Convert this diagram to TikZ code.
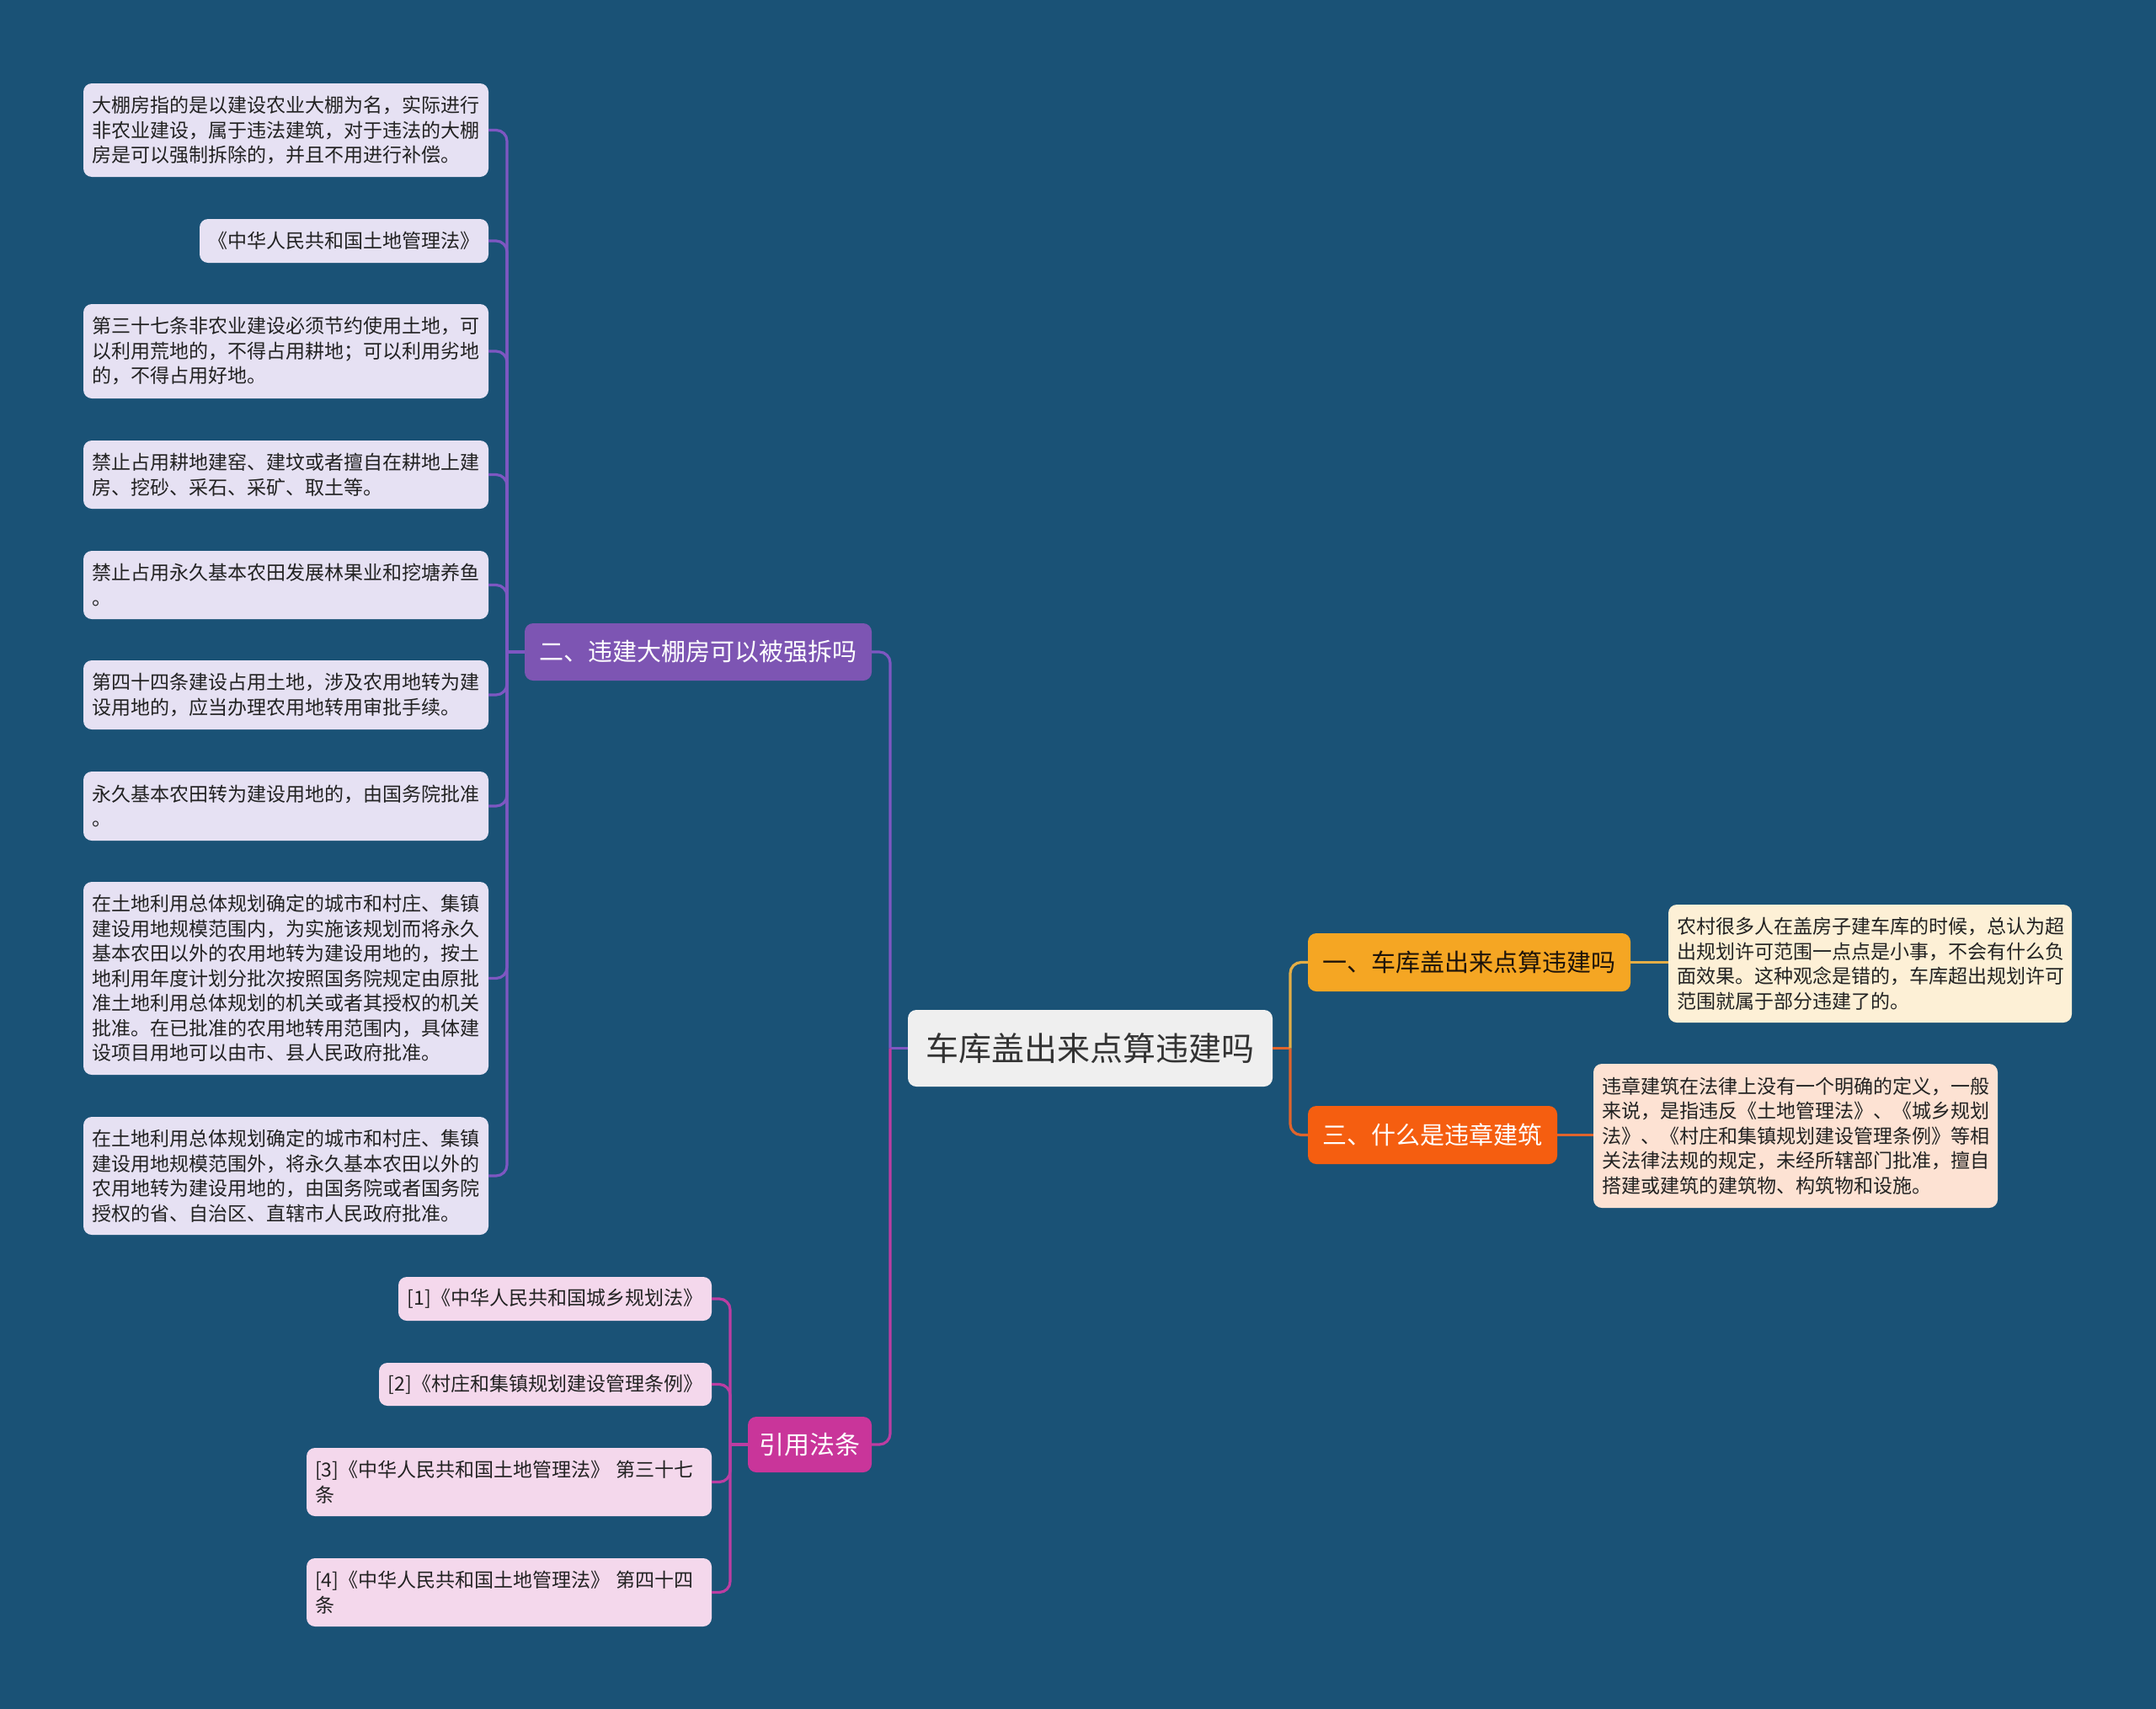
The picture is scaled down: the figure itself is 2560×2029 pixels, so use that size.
\documentclass[tikz,border=0pt]{standalone}
\usepackage{fontspec}
\setmainfont{Noto Sans CJK SC}
\definecolor{bg}{HTML}{1A5276}
\definecolor{leafl}{HTML}{E6E1F3}
\definecolor{leafp}{HTML}{F4D8EC}
\definecolor{leafy}{HTML}{FDF0D6}
\definecolor{leafo}{HTML}{FDE2D3}
\definecolor{centerc}{HTML}{EFEFEF}
\definecolor{purp}{HTML}{7D55B3}
\definecolor{mag}{HTML}{C9359A}
\definecolor{yel}{HTML}{F5A623}
\definecolor{ora}{HTML}{F55E10}
\definecolor{purpline}{HTML}{7E57C2}
\definecolor{magline}{HTML}{BC3DA2}
\definecolor{yelline}{HTML}{E4AE46}
\definecolor{oraline}{HTML}{E0642C}
\definecolor{txt}{HTML}{222222}
\begin{document}
\begin{tikzpicture}[x=1pt,y=-1pt,
  every node/.style={inner sep=0pt, outer sep=0pt},
  leafbox/.style={rounded corners=10pt, text=txt, font=\fontsize{23}{29.5}\selectfont,
    align=left, anchor=north west, inner xsep=10pt},
  lbox/.style={leafbox, fill=leafl},
  pbox/.style={leafbox, fill=leafp},
  ybox/.style={leafbox, fill=leafy},
  obox/.style={leafbox, fill=leafo},
  mainbox/.style={rounded corners=10pt, align=center, anchor=north west,
    font=\fontsize{29}{35}\selectfont},
  conn/.style={line width=3.2pt, rounded corners=13pt}
]
\path[fill=bg] (0,0) rectangle (2560,2029);

% center
\node[mainbox, fill=centerc, text=black!80, font=\fontsize{39}{46}\selectfont,
  minimum width=433pt, minimum height=91pt] (c) at (1078,1199) {车库盖出来点算违建吗};

% branches
\node[mainbox, fill=purp, text=white, minimum width=412pt, minimum height=68pt] (b2) at (623,740) {二、违建大棚房可以被强拆吗};
\node[mainbox, fill=mag, text=white, font=\fontsize{30}{36}\selectfont, minimum width=147pt, minimum height=66pt] (bref) at (888,1682) {引用法条};
\node[mainbox, fill=yel, text=black!85!brown, minimum width=383pt, minimum height=69pt] (b1) at (1553,1108) {一、车库盖出来点算违建吗};
\node[mainbox, fill=ora, text=white, minimum width=296pt, minimum height=69pt] (b3) at (1553,1313) {三、什么是违章建筑};

% left leaves
\node[lbox, text width=461pt, minimum height=111pt] (l1) at (99,99) {大棚房指的是以建设农业大棚为名，实际进行\\非农业建设，属于违法建筑，对于违法的大棚\\房是可以强制拆除的，并且不用进行补偿。};
\node[lbox, align=center, minimum width=343pt, minimum height=52pt] (l2) at (237,260) {《中华人民共和国土地管理法》};
\node[lbox, text width=461pt, minimum height=112pt] (l3) at (99,361) {第三十七条非农业建设必须节约使用土地，可\\以利用荒地的，不得占用耕地；可以利用劣地\\的，不得占用好地。};
\node[lbox, text width=461pt, minimum height=81pt] (l4) at (99,523) {禁止占用耕地建窑、建坟或者擅自在耕地上建\\房、挖砂、采石、采矿、取土等。};
\node[lbox, text width=461pt, minimum height=81pt] (l5) at (99,654) {禁止占用永久基本农田发展林果业和挖塘养鱼\\。};
\node[lbox, text width=461pt, minimum height=82pt] (l6) at (99,784) {第四十四条建设占用土地，涉及农用地转为建\\设用地的，应当办理农用地转用审批手续。};
\node[lbox, text width=461pt, minimum height=82pt] (l7) at (99,916) {永久基本农田转为建设用地的，由国务院批准\\。};
\node[lbox, text width=461pt, minimum height=229pt] (l8) at (99,1047) {在土地利用总体规划确定的城市和村庄、集镇\\建设用地规模范围内，为实施该规划而将永久\\基本农田以外的农用地转为建设用地的，按土\\地利用年度计划分批次按照国务院规定由原批\\准土地利用总体规划的机关或者其授权的机关\\批准。在已批准的农用地转用范围内，具体建\\设项目用地可以由市、县人民政府批准。};
\node[lbox, text width=461pt, minimum height=140pt] (l9) at (99,1326) {在土地利用总体规划确定的城市和村庄、集镇\\建设用地规模范围外，将永久基本农田以外的\\农用地转为建设用地的，由国务院或者国务院\\授权的省、自治区、直辖市人民政府批准。};

% reference leaves
\node[pbox, align=center, minimum width=372pt, minimum height=52pt] (r1) at (473,1516) {[1]《中华人民共和国城乡规划法》};
\node[pbox, align=center, minimum width=395pt, minimum height=51pt] (r2) at (450,1618) {[2]《村庄和集镇规划建设管理条例》};
\node[pbox, text width=461pt, minimum height=81pt] (r3) at (364,1719) {[3]《中华人民共和国土地管理法》 第三十七\\条};
\node[pbox, text width=461pt, minimum height=81pt] (r4) at (364,1850) {[4]《中华人民共和国土地管理法》 第四十四\\条};

% right leaves
\node[ybox, text width=459pt, minimum height=140pt] (y1) at (1981,1074) {农村很多人在盖房子建车库的时候，总认为超\\出规划许可范围一点点是小事，不会有什么负\\面效果。这种观念是错的，车库超出规划许可\\范围就属于部分违建了的。};
\node[obox, text width=460pt, minimum height=171pt] (y3) at (1892,1263) {违章建筑在法律上没有一个明确的定义，一般\\来说，是指违反《土地管理法》、《城乡规划\\法》、《村庄和集镇规划建设管理条例》等相\\关法律法规的规定，未经所辖部门批准，擅自\\搭建或建筑的建筑物、构筑物和设施。};

% junction points
\path (c.west) ++(-21,0) coordinate (jcl);
\path (c.east) ++(21,0) coordinate (jcr);
\path (b2.west) ++(-21,0) coordinate (j2);
\path (bref.west) ++(-21,0) coordinate (jr);

% connectors: center to branches
\draw[conn, purpline] (c.west) -- (jcl);
\draw[conn, purpline] (jcl) |- (b2.east);
\draw[conn, magline] (jcl) |- (bref.east);
\draw[conn, oraline] (c.east) -- (jcr);
\draw[conn, yelline] (jcr) |- (b1.west);
\draw[conn, oraline] (jcr) |- (b3.west);

% branch 二 to leaves
\draw[conn, purpline] (b2.west) -- (j2);
\foreach \n in {l1,l2,l3,l4,l5,l6,l7,l8,l9}
  \draw[conn, purpline] (j2) |- (\n.east);

% references
\draw[conn, magline] (bref.west) -- (jr);
\foreach \n in {r1,r2,r3,r4}
  \draw[conn, magline] (jr) |- (\n.east);

% right leaves
\draw[conn, yelline] (b1.east) -- (y1.west |- b1.east);
\draw[conn, oraline] (b3.east) -- (y3.west |- b3.east);
\end{tikzpicture}
\end{document}
